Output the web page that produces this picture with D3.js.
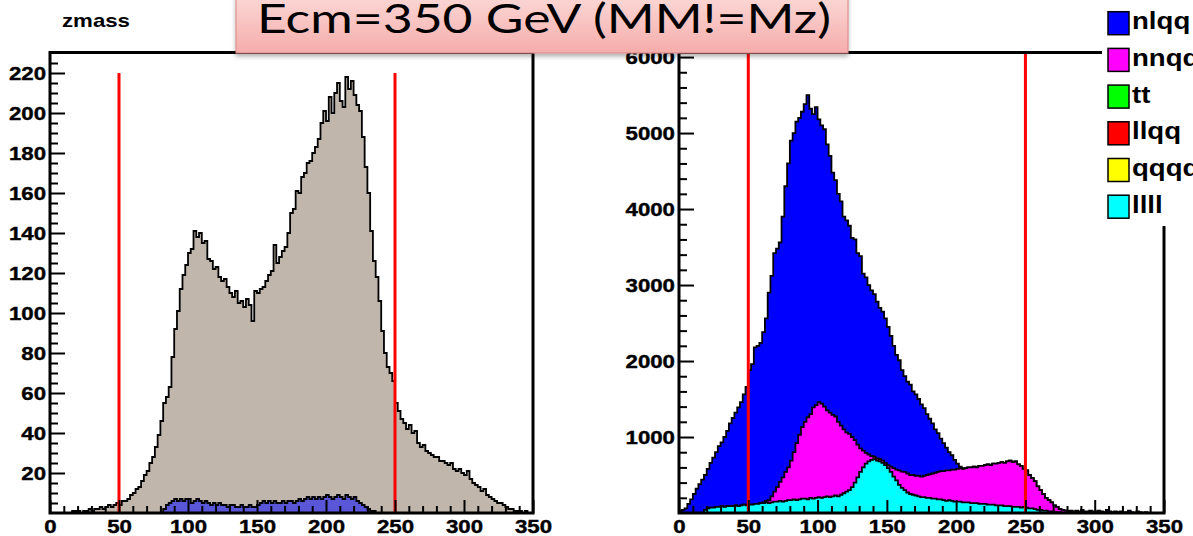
<!DOCTYPE html>
<html>
<head>
<meta charset="utf-8">
<script src="https://cdn.jsdelivr.net/npm/d3@7"></script>
<style>
  html, body { margin: 0; padding: 0; background: #fff; overflow: hidden; }
  svg { display: block; }
</style>
</head>
<body>
<svg id="chart" width="1193" height="536"></svg>
<script>
// ---- binning and axis labels -------------------------------------------
const binWidth = 2;                       // GeV per bin, 175 bins over 0..350
const xTicks = [0, 50, 100, 150, 200, 250, 300, 350];
const leftYTicks = [20, 40, 60, 80, 100, 120, 140, 160, 180, 200, 220];
const rightYTicks = [1000, 2000, 3000, 4000, 5000, 6000];
const cutValues = [50, 250];              // mass window shown as red lines
const titleText = "Ecm=350 GeV (MM!=Mz)";
const leftTitle = "zmass";

// ---- left pad: all events and the blue sub-sample ----------------------
const zmassAll = [
  0, 0, 0, 0, 0, 0, 0, 0, 1, 1,
  1, 0, 1, 1, 2, 1, 2, 2, 3, 2,
  3, 4, 3, 4, 5, 4, 6, 6, 7, 9,
  10, 12, 13, 16, 19, 21, 25, 28, 33, 39,
  46, 55, 58, 63, 78, 92, 101, 112, 119, 124,
  130, 132, 141, 138, 140, 135, 136, 127, 126, 122,
  123, 118, 116, 117, 113, 110, 108, 111, 105, 106,
  103, 107, 104, 96, 111, 110, 112, 113, 116, 119,
  121, 134, 125, 128, 131, 133, 140, 150, 152, 161,
  160, 168, 170, 175, 176, 180, 183, 187, 195, 201,
  196, 208, 200, 210, 215, 206, 203, 218, 212, 216,
  209, 204, 201, 188, 173, 160, 141, 126, 118, 106,
  91, 80, 73, 70, 66, 55, 51, 47, 45, 42,
  44, 40, 41, 35, 33, 34, 31, 30, 29, 28,
  28, 26, 26, 25, 24, 25, 22, 21, 22, 20,
  19, 21, 17, 15, 14, 13, 11, 12, 9, 8,
  7, 6, 5, 5, 4, 3, 2, 2, 1, 1,
  1, 0, 1, 0, 0
];
const zmassSub = [
  0, 0, 0, 0, 0, 0, 0, 0, 0, 0,
  0, 0, 0, 0, 0, 0, 0, 0, 0, 0,
  0, 0, 0, 0, 0, 0, 0, 0, 0, 0,
  0, 0, 0, 0, 0, 0, 0, 0, 0, 0,
  0, 2, 4, 5, 6, 7, 6, 7, 6, 7,
  7, 5, 6, 7, 6, 5, 6, 5, 4, 5,
  4, 5, 4, 4, 3, 4, 4, 3, 3, 4,
  3, 3, 4, 3, 3, 4, 5, 6, 5, 6,
  5, 6, 5, 5, 6, 5, 6, 6, 5, 6,
  7, 6, 7, 8, 7, 8, 7, 8, 7, 8,
  9, 8, 7, 8, 9, 8, 7, 9, 8, 7,
  8, 6, 5, 4, 3, 2, 1, 1, 0, 0,
  0, 0, 0, 0, 0, 0, 0, 0, 0, 0,
  0, 0, 0, 0, 0, 0, 0, 0, 0, 0,
  0, 0, 0, 0, 0, 0, 0, 0, 0, 0,
  0, 0, 0, 0, 0, 0, 0, 0, 0, 0,
  0, 0, 0, 0, 0, 0, 0, 0, 0, 0,
  0, 0, 0, 0, 0
];

// ---- right pad: stacked background processes ---------------------------
const llll = [
  0, 0, 0, 0, 0, 0, 0, 0, 0, 40,
  60, 70, 70, 80, 80, 90, 80, 90, 90, 90,
  100, 90, 100, 110, 100, 110, 110, 120, 120, 130,
  130, 140, 130, 140, 150, 150, 160, 150, 160, 170,
  170, 180, 170, 180, 190, 190, 180, 200, 190, 200,
  210, 200, 210, 220, 210, 220, 230, 220, 240, 260,
  280, 300, 340, 400, 470, 540, 600, 650, 680, 700,
  710, 690, 680, 660, 630, 590, 540, 480, 430, 370,
  330, 300, 270, 250, 240, 230, 220, 210, 210, 200,
  200, 190, 190, 180, 180, 170, 160, 170, 160, 150,
  150, 150, 140, 140, 140, 130, 130, 130, 120, 120,
  120, 110, 110, 110, 100, 100, 100, 90, 90, 90,
  80, 80, 80, 70, 80, 70, 60, 60, 50, 40,
  40, 30, 30, 20, 20, 10, 10, 10, 0, 0,
  0, 0, 0, 0, 0, 0, 0, 0, 0, 0,
  0, 0, 0, 0, 0, 0, 0, 0, 0, 0,
  0, 0, 0, 0, 0, 0, 0, 0, 0, 0,
  0, 0, 0, 0, 0
];
const nnqq = [
  0, 0, 0, 0, 0, 0, 0, 0, 0, 0,
  0, 0, 0, 0, 0, 0, 0, 0, 0, 0,
  0, 0, 0, 0, 0, 0, 0, 0, 0, 0,
  10, 20, 40, 80, 130, 190, 250, 320, 380, 430,
  520, 620, 750, 850, 940, 1010, 1080, 1100, 1200, 1220,
  1250, 1240, 1190, 1130, 1110, 1070, 1040, 980, 910, 840,
  780, 740, 660, 560, 430, 310, 220, 140, 90, 50,
  30, 30, 30, 30, 30, 40, 70, 110, 140, 190,
  215, 240, 250, 250, 260, 260, 270, 270, 280, 300,
  310, 330, 340, 360, 370, 380, 400, 390, 410, 420,
  430, 440, 440, 450, 460, 470, 480, 470, 500, 500,
  510, 530, 520, 540, 550, 560, 570, 570, 590, 600,
  590, 600, 560, 550, 500, 490, 440, 400, 370, 310,
  260, 220, 170, 150, 120, 90, 70, 40, 40, 30,
  20, 20, 10, 10, 10, 10, 10, 0, 10, 0,
  0, 10, 0, 0, 10, 10, 0, 0, 0, 10,
  0, 0, 0, 0, 0, 0, 0, 0, 0, 0,
  0, 0, 0, 0, 0
];
const nlqq = [
  20, 40, 60, 120, 180, 250, 320, 380, 440, 460,
  520, 590, 660, 720, 800, 840, 920, 990, 1090, 1160,
  1220, 1300, 1360, 1450, 1560, 1770, 1850, 2060, 2080, 2110,
  2240, 2400, 2730, 2900, 3140, 3140, 3150, 3430, 3760, 4000,
  4210, 4200, 4230, 4170, 4150, 4180, 4240, 4020, 3860, 3920,
  3720, 3660, 3650, 3500, 3380, 3190, 3110, 3000, 2950, 2800,
  2790, 2740, 2620, 2640, 2520, 2530, 2330, 2310, 2230, 2180,
  2140, 2060, 1990, 1960, 1900, 1820, 1720, 1610, 1510, 1450,
  1335, 1260, 1210, 1190, 1100, 1070, 1010, 950, 890, 800,
  730, 660, 570, 510, 430, 370, 300, 240, 190, 130,
  70, 20, 10, 0, 0, 0, 0, 0, 0, 0,
  0, 0, 0, 0, 0, 0, 0, 0, 0, 0,
  0, 0, 0, 0, 0, 0, 0, 0, 0, 0,
  0, 0, 0, 0, 0, 0, 0, 0, 0, 0,
  10, 10, 10, 20, 10, 30, 10, 20, 20, 20,
  20, 20, 20, 10, 30, 10, 10, 20, 10, 10,
  10, 10, 30, 10, 0, 20, 10, 0, 10, 0,
  0, 0, 0, 0, 0
];
const legendNames = ["nlqq", "nnqq", "tt", "llqq", "qqqq", "llll"];
const legendColors = ["#0000ff", "#ff00ff", "#00ff00", "#ff0000", "#ffff00", "#00ffff"];

// ---- drawing helpers ----------------------------------------------------
const svg = d3.select("#chart");
const defs = svg.append("defs");
const FONT = "'Liberation Sans', Arial, Helvetica, sans-serif";
const STRETCH = 1.17;

function stretch(sel, k) {
  sel.each(function () {
    const w = this.getComputedTextLength();
    d3.select(this).attr("textLength", w * k).attr("lengthAdjust", "spacingAndGlyphs");
  });
}

// filled step polygon from 0 up to the bin contents
function stepArea(values, x, y) {
  const pts = [];
  values.forEach((v, i) => {
    pts.push([i * binWidth, v], [(i + 1) * binWidth, v]);
  });
  return d3.area().x(d => x(d[0])).y0(y(0)).y1(d => y(d[1]))(pts);
}

// histogram outline, closed down to the baseline at both ends
function stepLine(values, x, y) {
  const pts = [[0, 0]];
  values.forEach((v, i) => {
    pts.push([i * binWidth, v], [(i + 1) * binWidth, v]);
  });
  pts.push([values.length * binWidth, 0]);
  return d3.line().x(d => x(d[0])).y(d => y(d[1]))(pts);
}

function drawPad(cfg) {
  const x = d3.scaleLinear().domain([0, 350]).range([cfg.left, cfg.right]);
  const y = d3.scaleLinear().domain([0, cfg.yMax]).range([cfg.bottom, cfg.top]);
  const g = svg.append("g");

  cfg.layers.forEach(layer => {
    g.append("path").attr("d", stepArea(layer.values, x, y)).attr("fill", layer.color);
    g.append("path").attr("d", stepLine(layer.values, x, y))
      .attr("fill", "none").attr("stroke", "#000").attr("stroke-width", 1.8);
  });

  cutValues.forEach(c => {
    g.append("line")
      .attr("x1", x(c)).attr("x2", x(c))
      .attr("y1", y(0)).attr("y2", y(cfg.cutTop))
      .attr("stroke", "#ff0000").attr("stroke-width", 3);
  });

  // bottom axis: major + minor ticks pointing into the frame
  const xMinor = d3.range(0, 351, 10).filter(v => v % 50 !== 0);
  const gxm = g.append("g").attr("transform", `translate(0,${cfg.bottom})`)
    .call(d3.axisBottom(x).tickValues(xMinor).tickSizeInner(-7).tickSizeOuter(0).tickFormat(""));
  const gx = g.append("g").attr("transform", `translate(0,${cfg.bottom})`)
    .call(d3.axisBottom(x).tickValues(xTicks).tickSizeInner(-13).tickSizeOuter(0).tickPadding(7).tickFormat(d3.format("d")));

  // left axis
  const gym = g.append("g").attr("transform", `translate(${cfg.left},0)`)
    .call(d3.axisLeft(y).tickValues(cfg.yMinor).tickSizeInner(-8).tickSizeOuter(0).tickFormat(""));
  const gy = g.append("g").attr("transform", `translate(${cfg.left},0)`)
    .call(d3.axisLeft(y).tickValues(cfg.yTicks).tickSizeInner(-15).tickSizeOuter(0).tickPadding(4).tickFormat(d3.format("d")));

  [gxm, gx, gym, gy].forEach(a => {
    a.select(".domain").remove();
    a.selectAll(".tick line").attr("stroke", "#000").attr("stroke-width", 2);
    a.selectAll("text").attr("font-family", FONT).attr("font-size", 19)
      .attr("font-weight", "bold").attr("fill", "#000")
      .attr("stroke", "#000").attr("stroke-width", 0.4);
  });
  gy.selectAll("text").attr("dy", "0.36em");
  stretch(gx.selectAll("text"), STRETCH);
  stretch(gy.selectAll("text"), STRETCH);

  g.append("rect")
    .attr("x", cfg.left).attr("y", cfg.top)
    .attr("width", cfg.right - cfg.left).attr("height", cfg.bottom - cfg.top)
    .attr("fill", "none").attr("stroke", "#000").attr("stroke-width", 3);
  return { x, y };
}

// ---- left pad ------------------------------------------------------------
drawPad({
  left: 50, right: 533, top: 52.5, bottom: 513, yMax: 230.25,
  yTicks: leftYTicks, yMinor: d3.range(5, 230, 5).filter(v => v % 20 !== 0),
  cutTop: 220,
  layers: [
    { values: zmassAll, color: "#c1b6ab" },
    { values: zmassSub, color: "#5a56d8" }
  ]
});

// ---- right pad: cumulative stack drawn largest first -----------------------
const stackKeys = ["llll", "nnqq", "nlqq"];
const stackColors = { llll: "#00ffff", nnqq: "#ff00ff", nlqq: "#0000ff" };
const stackRows = llll.map((v, i) => ({ llll: v, nnqq: nnqq[i], nlqq: nlqq[i] }));
const stacked = d3.stack().keys(stackKeys)(stackRows);
const rightLayers = stacked.slice().reverse().map(s => ({
  values: s.map(d => d[1]),
  color: stackColors[s.key]
}));

drawPad({
  left: 679, right: 1164, top: 52.5, bottom: 513, yMax: 6060,
  yTicks: rightYTicks, yMinor: d3.range(200, 6060, 200).filter(v => v % 1000 !== 0),
  cutTop: 6060,
  layers: rightLayers
});

// ---- pad title -------------------------------------------------------------
const zt = svg.append("text")
  .attr("x", 62).attr("y", 26.5)
  .attr("font-family", FONT).attr("font-size", 19).attr("font-weight", "bold")
  .attr("fill", "#000").text(leftTitle);
stretch(zt, STRETCH);

// ---- legend ----------------------------------------------------------------
const lg = svg.append("g");
lg.append("rect").attr("x", 1102).attr("y", 0).attr("width", 91).attr("height", 226).attr("fill", "#fff");
legendNames.forEach((name, i) => {
  const top = 11.7 + i * 36.7;
  lg.append("rect")
    .attr("x", 1108).attr("y", top).attr("width", 21).attr("height", 23)
    .attr("fill", legendColors[i]).attr("stroke", "#000").attr("stroke-width", 1.5);
  const t = lg.append("text")
    .attr("x", 1132).attr("y", top + 17.5)
    .attr("font-family", FONT).attr("font-size", 23).attr("font-weight", "bold")
    .attr("fill", "#000").text(name);
  stretch(t, 1.2);
});

// ---- slide title box -------------------------------------------------------
const grad = defs.append("linearGradient").attr("id", "titleFill")
  .attr("x1", 0).attr("y1", 0).attr("x2", 0).attr("y2", 1);
grad.append("stop").attr("offset", 0).attr("stop-color", "#fcdcda");
grad.append("stop").attr("offset", 1).attr("stop-color", "#f5adab");
const shadow = defs.append("filter").attr("id", "boxShadow")
  .attr("x", -0.05).attr("y", -0.2).attr("width", 1.1).attr("height", 1.6);
shadow.append("feDropShadow").attr("dx", 0).attr("dy", 3).attr("stdDeviation", 2)
  .attr("flood-color", "#000").attr("flood-opacity", 0.3);

svg.append("rect")
  .attr("x", 236).attr("y", -10).attr("width", 612).attr("height", 63)
  .attr("fill", "url(#titleFill)").attr("stroke", "#d98585").attr("stroke-width", 1)
  .attr("filter", "url(#boxShadow)");
svg.append("text")
  .attr("x", 257).attr("y", 33)
  .attr("font-family", "Lato, 'Open Sans', sans-serif").attr("font-size", 40)
  .attr("fill", "#000")
  .attr("textLength", 574).attr("lengthAdjust", "spacingAndGlyphs")
  .text(titleText);
</script>
</body>
</html>
